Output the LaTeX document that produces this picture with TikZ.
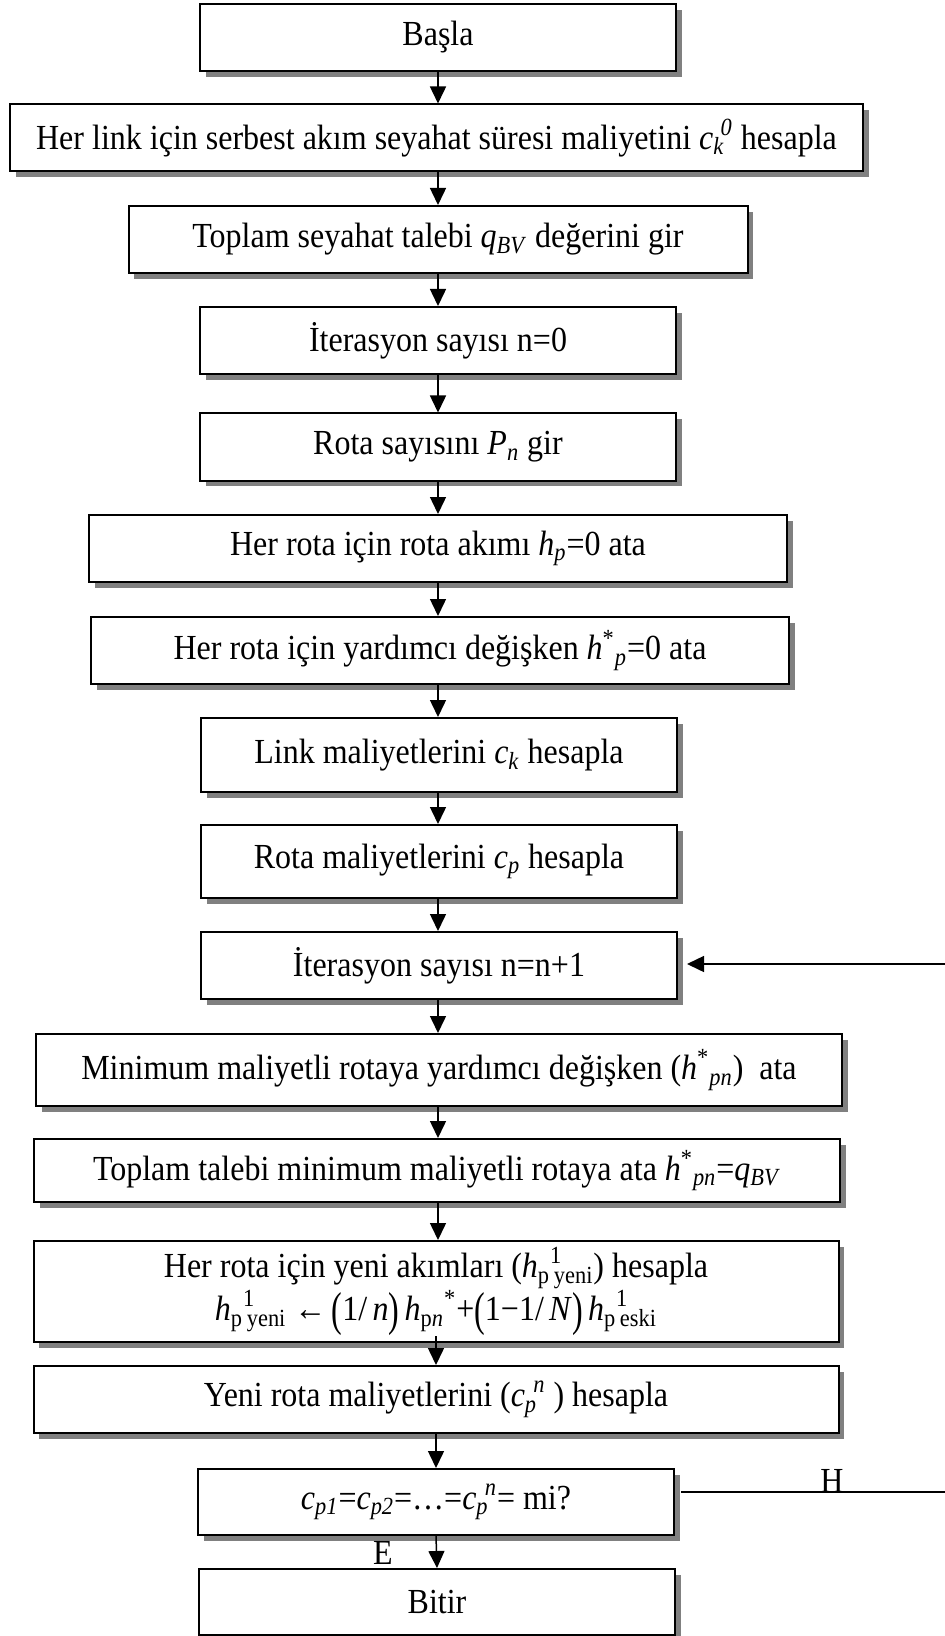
\documentclass[tikz,border=0pt]{standalone}
\usepackage{fontspec}
\setmainfont{Liberation Serif}
\usetikzlibrary{shadows,arrows.meta}

% sub- and superscripts in text
\newcommand{\subx}[1]{\textsubscript{#1}}
\newcommand{\supx}[1]{\textsuperscript{#1}}
% subscript followed closely by a superscript
\newcommand{\subsup}[2]{\subx{#1}\kern-0.12em\supx{#2}}
% tall parentheses
\newcommand{\bigpar}[1]{\raisebox{-0.14em}{\scalebox{1}[1.35]{#1}}}
% slightly tall lettering
\newcommand{\tl}[1]{\scalebox{1}[1.1]{#1}}

\begin{document}
\begin{tikzpicture}[x=0.5pt,y=-0.5pt,
  box/.style={draw, line width=1pt, fill=white, rectangle,
    minimum height=33.5pt, inner sep=2pt, align=center,
    font=\fontsize{16}{19}\selectfont,
    drop shadow={shadow xshift=2.8pt, shadow yshift=-2.8pt, fill=black!50, opacity=1}},
  narrow/.style={minimum width=238pt},
  flow/.style={line width=0.75pt, -{Triangle[length=8.5pt,width=8pt]}},
  lbl/.style={font=\fontsize{16}{19}\selectfont, inner sep=0pt}]

\useasboundingbox (0,0) rectangle (945,1636);

% process steps
\node[box, narrow] (basla) at (438,37.5) {\tl{Başla}};
\node[box, minimum width=426.5pt] (link) at (436.5,138)
  {\tl{Her link için serbest akım seyahat süresi maliyetini \textit{c}\subsup{\textit{k}}{\textit{0}} hesapla}};
\node[box, minimum width=309.5pt] (talep) at (438,239.5)
  {\tl{Toplam seyahat talebi \textit{q}\subx{\textit{BV}} değerini gir}};
\node[box, narrow] (iter0) at (438,340.5) {\tl{İterasyon sayısı n=0}};
\node[box, narrow] (rota) at (438,447) {\tl{Rota sayısını \textit{P}\subx{\textit{n}} gir}};
\node[box, minimum width=349pt] (akim) at (438,548.5)
  {\tl{Her rota için rota akımı \textit{h}\subx{\textit{p}}=0 ata}};
\node[box, minimum width=349pt] (yard) at (440,650.5)
  {\tl{Her rota için yardımcı değişken \textit{h}\supx{*}\subx{\textit{p}}=0 ata}};
\node[box, narrow, minimum height=37pt] (linkc) at (439,755)
  {\tl{Link maliyetlerini \textit{c}\subx{\textit{k}} hesapla}};
\node[box, narrow, minimum height=36.5pt] (rotac) at (439,861.5)
  {\tl{Rota maliyetlerini \textit{c}\subx{\textit{p}} hesapla}};
\node[box, narrow] (iter1) at (439,965.5) {\tl{İterasyon sayısı n=n+1}};
\node[box, minimum width=403pt, minimum height=36pt] (mini) at (439,1070)
  {\tl{Minimum maliyetli rotaya yardımcı değişken (\textit{h}\supx{*}\subx{\textit{pn}})\ \ ata}};
\node[box, minimum width=403pt, minimum height=31.5pt] (topl) at (437,1170.5)
  {\tl{Toplam talebi minimum maliyetli rotaya ata \textit{h}\supx{*}\subx{\textit{pn}}=\textit{q}\subx{\textit{BV}}}};
\node[box, minimum width=402.5pt, minimum height=50.5pt, font=\fontsize{16}{21.5}\selectfont] (formul) at (436,1291.5)
  {\tl{Her rota için yeni akımları (\textit{h}\subx{p}\rlap{\supx{1}}\subx{\,yeni}) hesapla}\\
   \tl{\textit{h}\subx{p}\rlap{\supx{1}}\subx{\,yeni} ←\,\bigpar{(}1/\,\textit{n}\bigpar{)}\,\textit{h}\subx{p\textit{n}}\supx{*}+\bigpar{(}1−1/\,\textit{N}\bigpar{)}\,\textit{h}\subx{p}\rlap{\supx{1}}\subx{\,eski}}};
\node[box, minimum width=402.5pt] (yeni) at (436,1399.5)
  {\tl{Yeni rota maliyetlerini (\textit{c}\subsup{\textit{p}}{\textit{n}}\ ) hesapla}};
\node[box, narrow, minimum height=33pt] (karar) at (436,1502)
  {\tl{\textit{c}\subx{\textit{p1}}=\textit{c}\subx{\textit{p2}}=…=\textit{c}\subsup{\textit{p}}{\textit{n}}= mi?}};
\node[box, narrow, minimum height=33pt] (bitir) at (437,1602) {\tl{Bitir}};

% branch labels
\node[lbl] (lblE) at (383,1553) {\tl{E}};
\node[lbl] (lblH) at (832,1481) {\tl{H}};

% free ends of the loop back, at the right edge
\coordinate (hEnd) at (945,1492);
\coordinate (loopStart) at (945,964);

% main flow
\draw[flow] (basla.south) -- (basla.south |- link.north);
\draw[flow] (link.south -| basla.south) -- (basla.south |- talep.north);
\draw[flow] (talep.south) -- (iter0.north);
\draw[flow] (iter0.south) -- (iter0.south |- rota.north);
\draw[flow] (rota.south -| iter0.south) -- (iter0.south |- akim.north);
\draw[flow] (akim.south -| iter0.south) -- (iter0.south |- yard.north);
\draw[flow] (yard.south -| iter0.south) -- (iter0.south |- linkc.north);
\draw[flow] (linkc.south -| iter0.south) -- (iter0.south |- rotac.north);
\draw[flow] (rotac.south -| iter0.south) -- (iter0.south |- iter1.north);
\draw[flow] (iter1.south -| iter0.south) -- (iter0.south |- mini.north);
\draw[flow] (mini.south -| iter0.south) -- (iter0.south |- topl.north);
\draw[flow] (topl.south -| iter0.south) -- (iter0.south |- formul.north);
\draw[flow] ([yshift=3.5pt]formul.south) -- (yeni.north);
\draw[flow] (yeni.south) -- (karar.north);
\draw[flow] (karar.south) -- (bitir.north);

% loop back
\draw[line width=0.75pt] ([xshift=3pt]karar.east |- hEnd) -- (hEnd);
\draw[flow] (loopStart) -- ([xshift=4.5pt]iter1.east |- loopStart);
\end{tikzpicture}
\end{document}
